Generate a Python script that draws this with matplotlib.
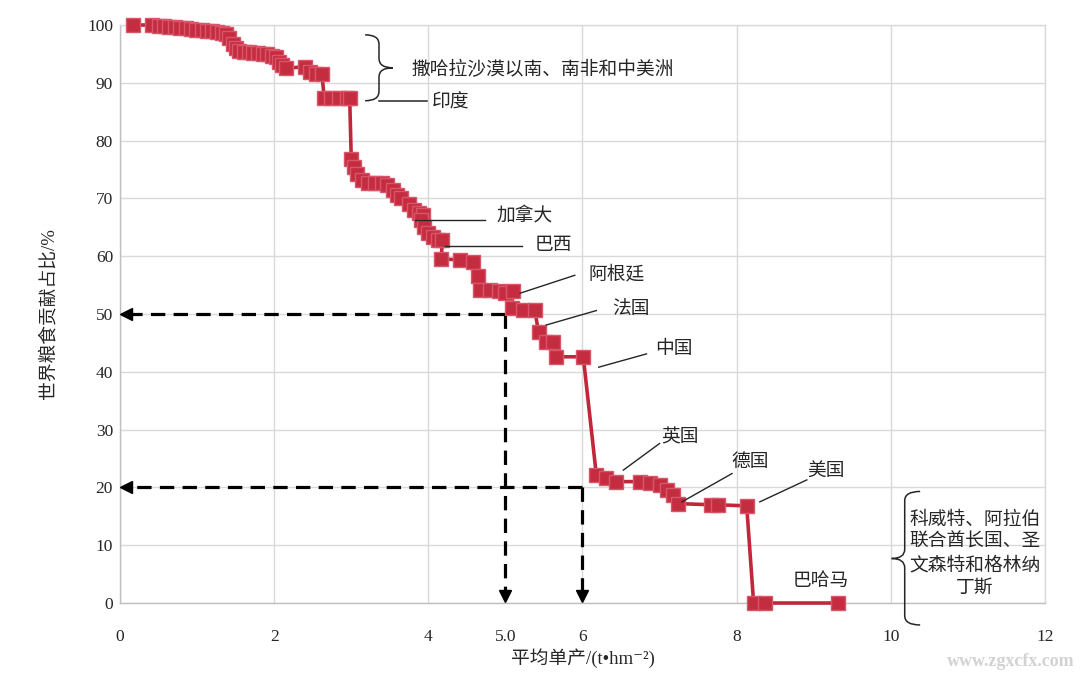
import matplotlib
matplotlib.use("Agg")
import matplotlib.pyplot as plt
from matplotlib.path import Path
import matplotlib.patches as mpatches

# ── data ─────────────────────────────────────────────────────────────────────
yield_t = [0.17, 0.41, 0.50, 0.57, 0.64, 0.71, 0.78, 0.85, 0.92, 0.99,
           1.06, 1.13, 1.20, 1.26, 1.32, 1.37, 1.42, 1.46, 1.50, 1.55,
           1.61, 1.67, 1.73, 1.79, 1.85, 1.91, 1.97, 2.02, 2.06, 2.10,
           2.15, 2.40, 2.47, 2.54, 2.62, 2.65, 2.74, 2.84, 2.94, 2.98,
           3.00, 3.04, 3.07, 3.14, 3.22, 3.31, 3.40, 3.46, 3.54, 3.59,
           3.65, 3.75, 3.82, 3.88, 3.93, 3.91, 3.95, 4.00, 4.06, 4.12,
           4.18, 4.17, 4.41, 4.58, 4.65, 4.67, 4.80, 4.92, 5.00, 5.10,
           5.08, 5.23, 5.38, 5.43, 5.53, 5.62, 5.66, 6.01, 6.18, 6.31,
           6.44, 6.75, 6.88, 7.00, 7.09, 7.18, 7.24, 7.67, 7.76, 8.13,
           8.22, 8.37, 9.32]
share_pct = [100.0, 100.0, 99.9, 99.8, 99.7, 99.6, 99.5, 99.4, 99.3, 99.2,
             99.1, 99.0, 98.9, 98.8, 98.7, 98.5, 97.7, 96.8, 96.0, 95.5,
             95.4, 95.3, 95.2, 95.1, 95.0, 94.9, 94.7, 94.5, 93.6, 93.0,
             92.5, 92.8, 91.9, 91.6, 91.5, 87.3, 87.3, 87.3, 87.3, 87.3,
             76.9, 75.5, 74.3, 73.2, 72.6, 72.6, 72.6, 72.3, 71.5, 70.6,
             70.0, 69.0, 68.0, 67.4, 67.1, 66.3, 65.1, 64.0, 63.4, 62.8,
             62.8, 59.6, 59.3, 59.0, 56.6, 54.2, 54.2, 53.9, 53.6, 53.9,
             51.0, 50.7, 50.7, 46.9, 45.2, 45.2, 42.6, 42.6, 22.1, 21.6,
             21.0, 21.0, 20.7, 20.4, 19.6, 18.7, 17.2, 17.0, 17.0, 16.8,
             0.0, 0.0, 0.0]

x_ticks = [0, 2, 4, 6, 8, 10, 12]
y_ticks = list(range(0, 101, 10))

# reference lines (yield threshold -> share)
ref_yield = [5.0, 6.0]
ref_share = [50, 20]

# country labels: (text, line from, line to, text pos)
labels = [
    ("加拿大", (3.83, 66.3), (4.73, 66.3), (4.88, 67.0)),
    ("巴西",   (4.21, 61.7), (5.22, 61.7), (5.38, 61.9)),
    ("阿根廷", (5.19, 53.6), (5.90, 56.7), (6.08, 56.8)),
    ("法国",   (5.53, 48.1), (6.18, 50.6), (6.38, 50.6)),
    ("中国",   (6.21, 40.8), (6.83, 43.1), (6.94, 43.9)),
    ("英国",   (6.53, 23.0), (7.00, 27.6), (7.02, 28.6)),
    ("德国",   (7.29, 17.5), (7.94, 22.4), (7.93, 24.3)),
    ("美国",   (8.30, 17.5), (8.91, 21.3), (8.91, 22.8)),
]

# ── style ────────────────────────────────────────────────────────────────────
plt.rcParams["font.family"] = ["Liberation Serif", "Noto Sans CJK SC", "DejaVu Serif"]

RED = "#C1263A"
GRID = "#D9D9D9"
INK = "#262626"

fig = plt.figure(figsize=(10.8, 6.78), dpi=100)
ax = fig.add_axes([0.1111, 0.1106, 0.8565, 0.8525])

ax.plot(yield_t, share_pct, color=RED, lw=2.6, marker="s", markersize=10.5,
        markerfacecolor="#C42C40", markeredgecolor="#D9566A", markeredgewidth=1.0,
        zorder=5, clip_on=False)

# dashed guide arrows
for xv, yv in zip(ref_yield, ref_share):
    ax.plot([xv, 0.12], [yv, yv], color="black", lw=2.3, dashes=(4.5, 2.6),
            zorder=3, clip_on=False)
    ax.plot([xv, xv], [yv, 1.6], color="black", lw=2.3, dashes=(4.5, 2.6),
            zorder=3, clip_on=False)
    ax.plot([0.08], [yv], marker="<", color="black", markersize=8, zorder=3,
            clip_on=False)
    ax.plot([xv], [1.2], marker="v", color="black", markersize=8, zorder=3,
            clip_on=False)

# country labels
for txt, p0, p1, pt in labels:
    ax.plot([p0[0], p1[0]], [p0[1], p1[1]], color=INK, lw=1.0, zorder=6)
    ax.text(pt[0], pt[1], txt, fontsize=13.5, color=INK, ha="left", va="center")
ax.text(8.73, 3.8, "巴哈马", fontsize=13.5, color=INK, ha="left", va="center")


def brace(x_arm, x_v, x_tip, y_top, y_mid, y_bot, r=1.6):
    verts = [(x_arm, y_top), (x_v, y_top), (x_v, y_top - r),
             (x_v, y_mid + r), (x_v, y_mid), (x_tip, y_mid),
             (x_v, y_mid), (x_v, y_mid - r),
             (x_v, y_bot + r), (x_v, y_bot), (x_arm, y_bot)]
    codes = [Path.MOVETO, Path.CURVE3, Path.CURVE3,
             Path.LINETO, Path.CURVE3, Path.CURVE3,
             Path.CURVE3, Path.CURVE3,
             Path.LINETO, Path.CURVE3, Path.CURVE3]
    ax.add_patch(mpatches.PathPatch(Path(verts, codes), fill=False, ec=INK,
                                    lw=1.1, zorder=6, clip_on=False))


# top brace: Sub-Saharan Africa etc., India
brace(3.18, 3.36, 3.54, 98.3, 92.6, 86.9)
ax.plot([3.36, 3.98], [86.9, 86.9], color=INK, lw=1.1, zorder=6)
ax.text(3.78, 92.3, "撒哈拉沙漠以南、南非和中美洲", fontsize=13.5, color=INK,
        ha="left", va="center")
ax.text(4.05, 86.6, "印度", fontsize=13.5, color=INK, ha="left", va="center")

# right brace: zero-share countries
brace(10.38, 10.18, 10.01, 19.3, 7.7, -3.8)
ax.text(11.09, 8.5, "科威特、阿拉伯\n联合酋长国、圣\n文森特和格林纳\n丁斯",
        fontsize=13.5, color=INK, ha="center", va="center", linespacing=1.4)

# ── axes ─────────────────────────────────────────────────────────────────────
ax.set_xlim(0, 12)
ax.set_ylim(0, 100)
ax.set_xticks(x_ticks)
ax.set_xticklabels([str(t) for t in x_ticks])
ax.set_xticks([5.0], minor=True)
ax.set_xticklabels(["5.0"], minor=True, color="#B8283A")
ax.set_yticks(y_ticks)
ax.tick_params(axis="both", which="both", length=0, labelsize=12.5,
               labelcolor=INK)
ax.tick_params(axis="x", which="both", pad=19)
ax.tick_params(axis="y", pad=5)
ax.xaxis.grid(True, which="major", color=GRID, lw=1.0)
ax.yaxis.grid(True, color=GRID, lw=1.0)
ax.set_axisbelow(True)
for s in ax.spines.values():
    s.set_color("#BFBFBF")
    s.set_linewidth(1.0)
ax.spines["top"].set_color(GRID)
ax.spines["right"].set_color(GRID)

ax.set_xlabel("平均单产/(t•hm⁻²)", fontsize=13.5, color=INK, labelpad=2)
ax.set_ylabel("世界粮食贡献占比/%", fontsize=13.5, color=INK, labelpad=21)

fig.text(0.995, 0.012, "www.zgxcfx.com", fontsize=13, color="#D2D2D2",
         ha="right", va="bottom", fontweight="bold")

plt.savefig("out.png", dpi=100)
